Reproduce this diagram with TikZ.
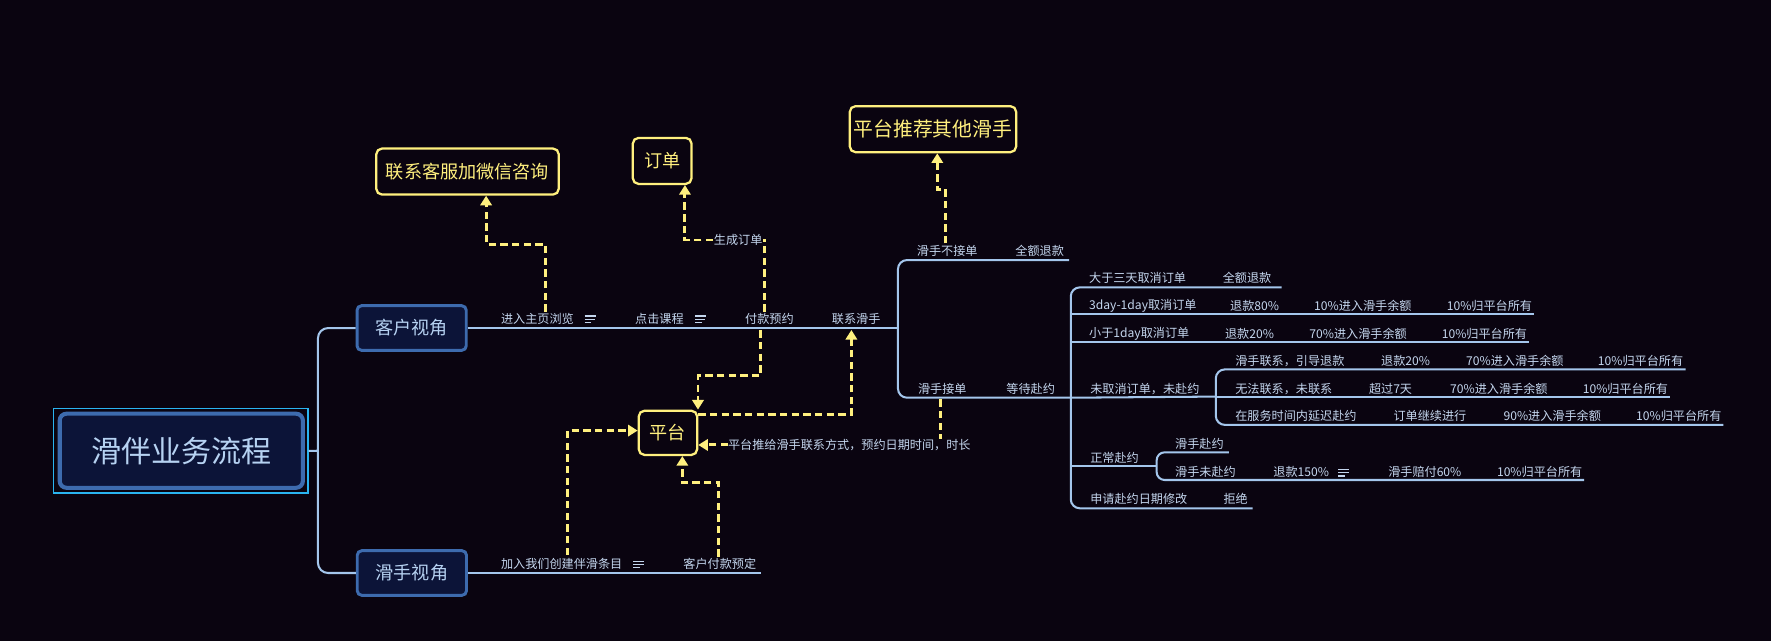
\documentclass[tikz,border=0pt]{standalone}
\usepackage{fontspec}
\setmainfont{Noto Sans CJK SC}
\usetikzlibrary{arrows.meta}
\definecolor{bgc}{HTML}{0A0410}
\definecolor{mln}{HTML}{A4C6EC}
\definecolor{ltext}{HTML}{C4D6EE}
\definecolor{btext}{HTML}{B6D2F2}
\definecolor{bfill}{HTML}{0C1438}
\definecolor{bborder}{HTML}{3D6BAE}
\definecolor{cyanc}{HTML}{2AB4F0}
\definecolor{yel}{HTML}{FFF07E}
\tikzset{
 mline/.style={draw=mln, line width=1.8pt},
 lbl/.style={anchor=west, inner sep=0pt, text=ltext, font=\fontsize{10.7}{12}\selectfont},
 topbox/.style={draw=bborder, fill=bfill, line width=2.6pt, rounded corners=4pt, text=btext, font=\fontsize{16}{18}\selectfont, minimum width=96.4pt, minimum height=39.4pt, inner sep=0pt},
 ybox/.style={draw=yel, line width=2pt, rounded corners=5pt, text=yel, font=\fontsize{16}{18}\selectfont, minimum height=40.6pt, inner sep=0pt},
 dline/.style={draw=yel, line width=2.6pt, dash pattern=on 6.5pt off 3.8pt, -{Triangle[width=10pt,length=8.5pt]}},
 dplain/.style={draw=yel, line width=2.6pt, dash pattern=on 6.5pt off 3.8pt},
 dlbl/.style={inner sep=0.5pt, fill=bgc, text=ltext, font=\fontsize{10.7}{12}\selectfont},
}
\newcommand\mynote[2]{\draw[ltext, line width=1pt] (#1,#2-2.9) -- ++(9.7,0) (#1,#2) -- ++(9.2,0) (#1,#2+2.9) -- ++(6,0);}
\begin{document}
\begin{tikzpicture}[x=1pt,y=-1pt]
\fill[bgc] (0,0) rectangle (1563,565.7);
\useasboundingbox (0,0) rectangle (1563,565.7);

% ---------- boxes ----------
\node[draw=cyanc, line width=1.5pt, minimum width=224.4pt, minimum height=74.7pt, inner sep=0pt] (rootsel) at (159.5,397.9) {};
\node[draw=bborder, fill=bfill, line width=3.6pt, rounded corners=6pt, minimum width=214.6pt, minimum height=65.4pt, inner sep=0pt, text=btext, font=\fontsize{26.5}{30}\selectfont] (root) at (160,397.8) {滑伴业务流程};
\node[topbox] (kehu) at (363.3,289.5) {客户视角};
\node[topbox] (huashou) at (363.5,505.7) {滑手视角};

\node[ybox, minimum width=161pt] (kefu) at (412.6,151.4) {联系客服加微信咨询};
\node[ybox, minimum width=51.8pt] (dingdan) at (584.4,142) {订单};
\node[ybox, minimum width=146.8pt, font=\fontsize{17.5}{20}\selectfont] (rec) at (823.4,114) {平台推荐其他滑手};
\node[ybox, minimum width=51.5pt, minimum height=39pt] (pt) at (589.5,382) {平台};

% ---------- mind-map lines ----------
\coordinate (trk) at (280.6,397.8);
\draw[mline] (rootsel.east) -- (trk);
\draw[mline, rounded corners=9pt] (kehu.west) -- (280.6,289.5) -- (280.6,505.7) -- (huashou.west);
\coordinate (br1) at (792.5,289.5);
\draw[mline] (kehu.east) -- (br1);
\draw[mline, rounded corners=8pt] (943.5,229.5) -- (792.5,229.5) -- (br1) -- (792.5,351) -- (945,351);
\draw[mline] (huashou.east) -- (671.6,505.7);

\coordinate (br2) at (945,351);
\draw[mline, rounded corners=8pt] (1131,253.6) -- (945,253.6) -- (945,448.6) -- (1105.5,448.6);
\draw[mline] (945,277.5) -- (1354,277.5);
\draw[mline] (945,301.5) -- (1349.6,301.5);
\draw[mline] (br2) -- (1073,350);
\draw[mline] (945,411.3) -- (1020.8,411.3);
\draw[mline, rounded corners=8pt] (1487.7,326) -- (1073,326) -- (1073,375) -- (1520.9,375);
\draw[mline] (1073,350) -- (1473.8,350);
\draw[mline, rounded corners=7pt] (1084.6,399.2) -- (1020.8,399.2) -- (1020.8,423.6) -- (1398,423.6);

% ---------- labels ----------
\node[lbl] (a1) at (442,281.5) {进入主页浏览};
\mynote{516}{281.8}
\node[lbl] (a2) at (560.4,281.5) {点击课程};
\mynote{613.4}{281.8}
\node[lbl] (a3) at (657.5,281.5) {付款预约};
\node[lbl] (a4) at (734,281.5) {联系滑手};

\node[lbl] (b1) at (809,221) {滑手不接单};
\node[lbl] (b2) at (896,221) {全额退款};
\node[lbl] (c1) at (810,343) {滑手接单};
\node[lbl] (c2) at (888,343) {等待赴约};

\node[lbl] (e1) at (961,245) {大于三天取消订单};
\node[lbl] at (1079,245) {全额退款};

\node[lbl] (e2) at (961,269.8) {3day-1day取消订单};
\node[lbl] at (1085.5,269.8) {退款80\%};
\node[lbl] at (1159.6,269.8) {10\%进入滑手余额};
\node[lbl] at (1276.7,269.8) {10\%归平台所有};

\node[lbl] (e3) at (961,294.8) {小于1day取消订单};
\node[lbl] at (1081,294.8) {退款20\%};
\node[lbl] at (1155.4,294.8) {70\%进入滑手余额};
\node[lbl] at (1272.3,294.8) {10\%归平台所有};

\node[lbl] (e4) at (962,343.5) {未取消订单，未赴约};
\node[lbl] at (1090,318.3) {滑手联系，引导退款};
\node[lbl] at (1218.8,318.3) {退款20\%};
\node[lbl] at (1293.8,318.3) {70\%进入滑手余额};
\node[lbl] at (1410,318.3) {10\%归平台所有};

\node[lbl] at (1090,343.3) {无法联系，未联系};
\node[lbl] at (1208,343.3) {超过7天};
\node[lbl] at (1279.7,343.3) {70\%进入滑手余额};
\node[lbl] at (1396.7,343.3) {10\%归平台所有};

\node[lbl] at (1090,367) {在服务时间内延迟赴约};
\node[lbl] at (1229.7,367) {订单继续进行};
\node[lbl] at (1326.8,367) {90\%进入滑手余额};
\node[lbl] at (1443.8,367) {10\%归平台所有};

\node[lbl] (e5) at (962,404) {正常赴约};
\node[lbl] at (1037,391.8) {滑手赴约};
\node[lbl] at (1037,416.9) {滑手未赴约};
\node[lbl] at (1123.7,416.9) {退款150\%};
\mynote{1181}{417.2}
\node[lbl] at (1225,416.9) {滑手赔付60\%};
\node[lbl] at (1321,416.9) {10\%归平台所有};

\node[lbl] (e6) at (962,440.4) {申请赴约日期修改};
\node[lbl] at (1079.6,440.4) {拒绝};

\node[lbl] (h1) at (442,498) {加入我们创建伴滑条目};
\mynote{558.8}{498.3}
\node[lbl] (h2) at (603,498) {客户付款预定};

% ---------- dashed connectors ----------
\coordinate (d1a) at (481.3,275);
\coordinate (d1b) at (429,215.6);
\draw[dline] (d1a) |- (d1b) -- (d1b |- kefu.south);

\node[dlbl] (gen) at (651.5,211.8) {生成订单};
\coordinate (d2a) at (674.3,275);
\coordinate (d2b) at (674.3,210.5);
\coordinate (d2c) at (604.5,211.8);
\draw[dplain] (d2a) -- (d2b);
\draw[dline] (gen.west) -- (d2c) -- (d2c |- dingdan.south);

\coordinate (d3a) at (671,291.5);
\coordinate (d3b) at (616,331.8);
\draw[dline] (d3a) |- (d3b) -- (d3b |- pt.north);

\coordinate (d4b) at (751.4,365.7);
\coordinate (d4c) at (751.4,291.2);
\draw[dline] (pt.east |- d4b) -- (d4b) -- (d4c);

\node[dlbl, inner sep=0pt] (push) at (749.6,392.7) {平台推给滑手联系方式，预约日期时间，时长};
\coordinate (d5a) at (830.2,352.5);
\draw[dplain] (d5a) -- (d5a |- push.north);
\draw[dline] (push.west) -- (pt.east |- push.west);

\coordinate (d6a) at (501,489.8);
\coordinate (d6b) at (501,380);
\draw[dline] (d6a) -- (d6b) -- (pt.west |- d6b);

\coordinate (d7a) at (634.5,491.3);
\coordinate (d7b) at (602.2,426);
\draw[dline] (d7a) |- (d7b) -- (d7b |- pt.south);

\coordinate (d8a) at (834.6,214.8);
\coordinate (d8b) at (827.2,167);
\draw[dline] (d8a) |- (d8b) -- (d8b |- rec.south);
\end{tikzpicture}
\end{document}
